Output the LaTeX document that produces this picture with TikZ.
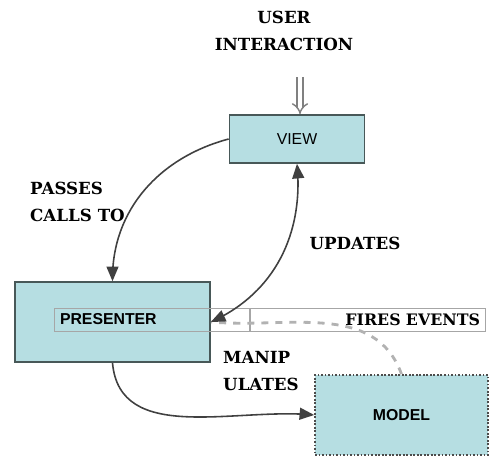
\documentclass[tikz,border=0pt]{standalone}
\usepackage{fontspec}
\setmainfont{DejaVu Serif}
\setsansfont{Liberation Sans}
\usetikzlibrary{arrows, shapes.geometric}

\definecolor{boxcyan}{RGB}{182,222,226}
\definecolor{boxedge}{RGB}{72,88,88}

\tikzset{
	block/.style={draw=boxedge, fill=boxcyan, line width=1pt, inner sep=0pt,
		font=\sffamily\fontsize{9}{11}\selectfont},
	tag/.style={font=\bfseries\fontsize{9.5}{15}\selectfont},
	namebox/.style={draw=gray!70, line width=0.4pt, inner xsep=3pt, inner ysep=0pt,
		minimum height=0.46cm},
	link/.style={draw=black!75, line width=0.9pt, -triangle 45},
	fire/.style={draw=gray!60, line width=1.6pt, dash pattern=on 4pt off 4pt},
}

\begin{document}
\begin{tikzpicture}[x=0.02cm, y=-0.02cm]
	\useasboundingbox (0,0) rectangle (495,459);

	% boxes
	\node[block, minimum width=2.7cm, minimum height=0.96cm] (view) at (297,139) {VIEW};
	\node[block, minimum width=3.9cm, minimum height=1.6cm] (presenter) at (112.5,322) {};
	\node[block, densely dotted, draw=black!70, minimum width=3.46cm, minimum height=1.6cm,
		font=\sffamily\bfseries\fontsize{9}{11}\selectfont] (model) at (401.5,415) {MODEL\hspace{0.4cm}};
	\node[namebox, text width=3.7cm, align=left, font=\sffamily\bfseries\fontsize{9}{11}\selectfont] (pname) at (152.5,319.5) {PRESENTER};
	\node[namebox, text width=4.5cm, align=right, font=\bfseries\fontsize{9}{11}\selectfont] (fires) at (367.5,319.5) {FIRES EVENTS};

	% labels
	\node[tag, align=center] (user) at (284,31) {USER\\INTERACTION};
	\node[tag, align=left, anchor=west] (passes) at (24,202) {PASSES\\CALLS TO};
	\node[tag] (updates) at (355,243) {UPDATES};
	\node[tag, align=left, anchor=west] (manip) at (217,371) {MANIP\\ULATES};

	% connectors
	\coordinate (uitop) at (300,77);
	\draw[gray, double, double distance=2.4pt, line width=0.8pt, -implies] (uitop) -- (view.north -| uitop);
	\draw[fire] (model.north) to[out=110, in=-5] (presenter.east);
	\draw[link] (view.west) to[out=195, in=90] (presenter.north);
	\draw[link, triangle 45-triangle 45] (view.south) to[out=-85, in=25] (presenter.east);
	\draw[link] (presenter.south) to[out=-85, in=175] (model.west);
\end{tikzpicture}
\end{document}
